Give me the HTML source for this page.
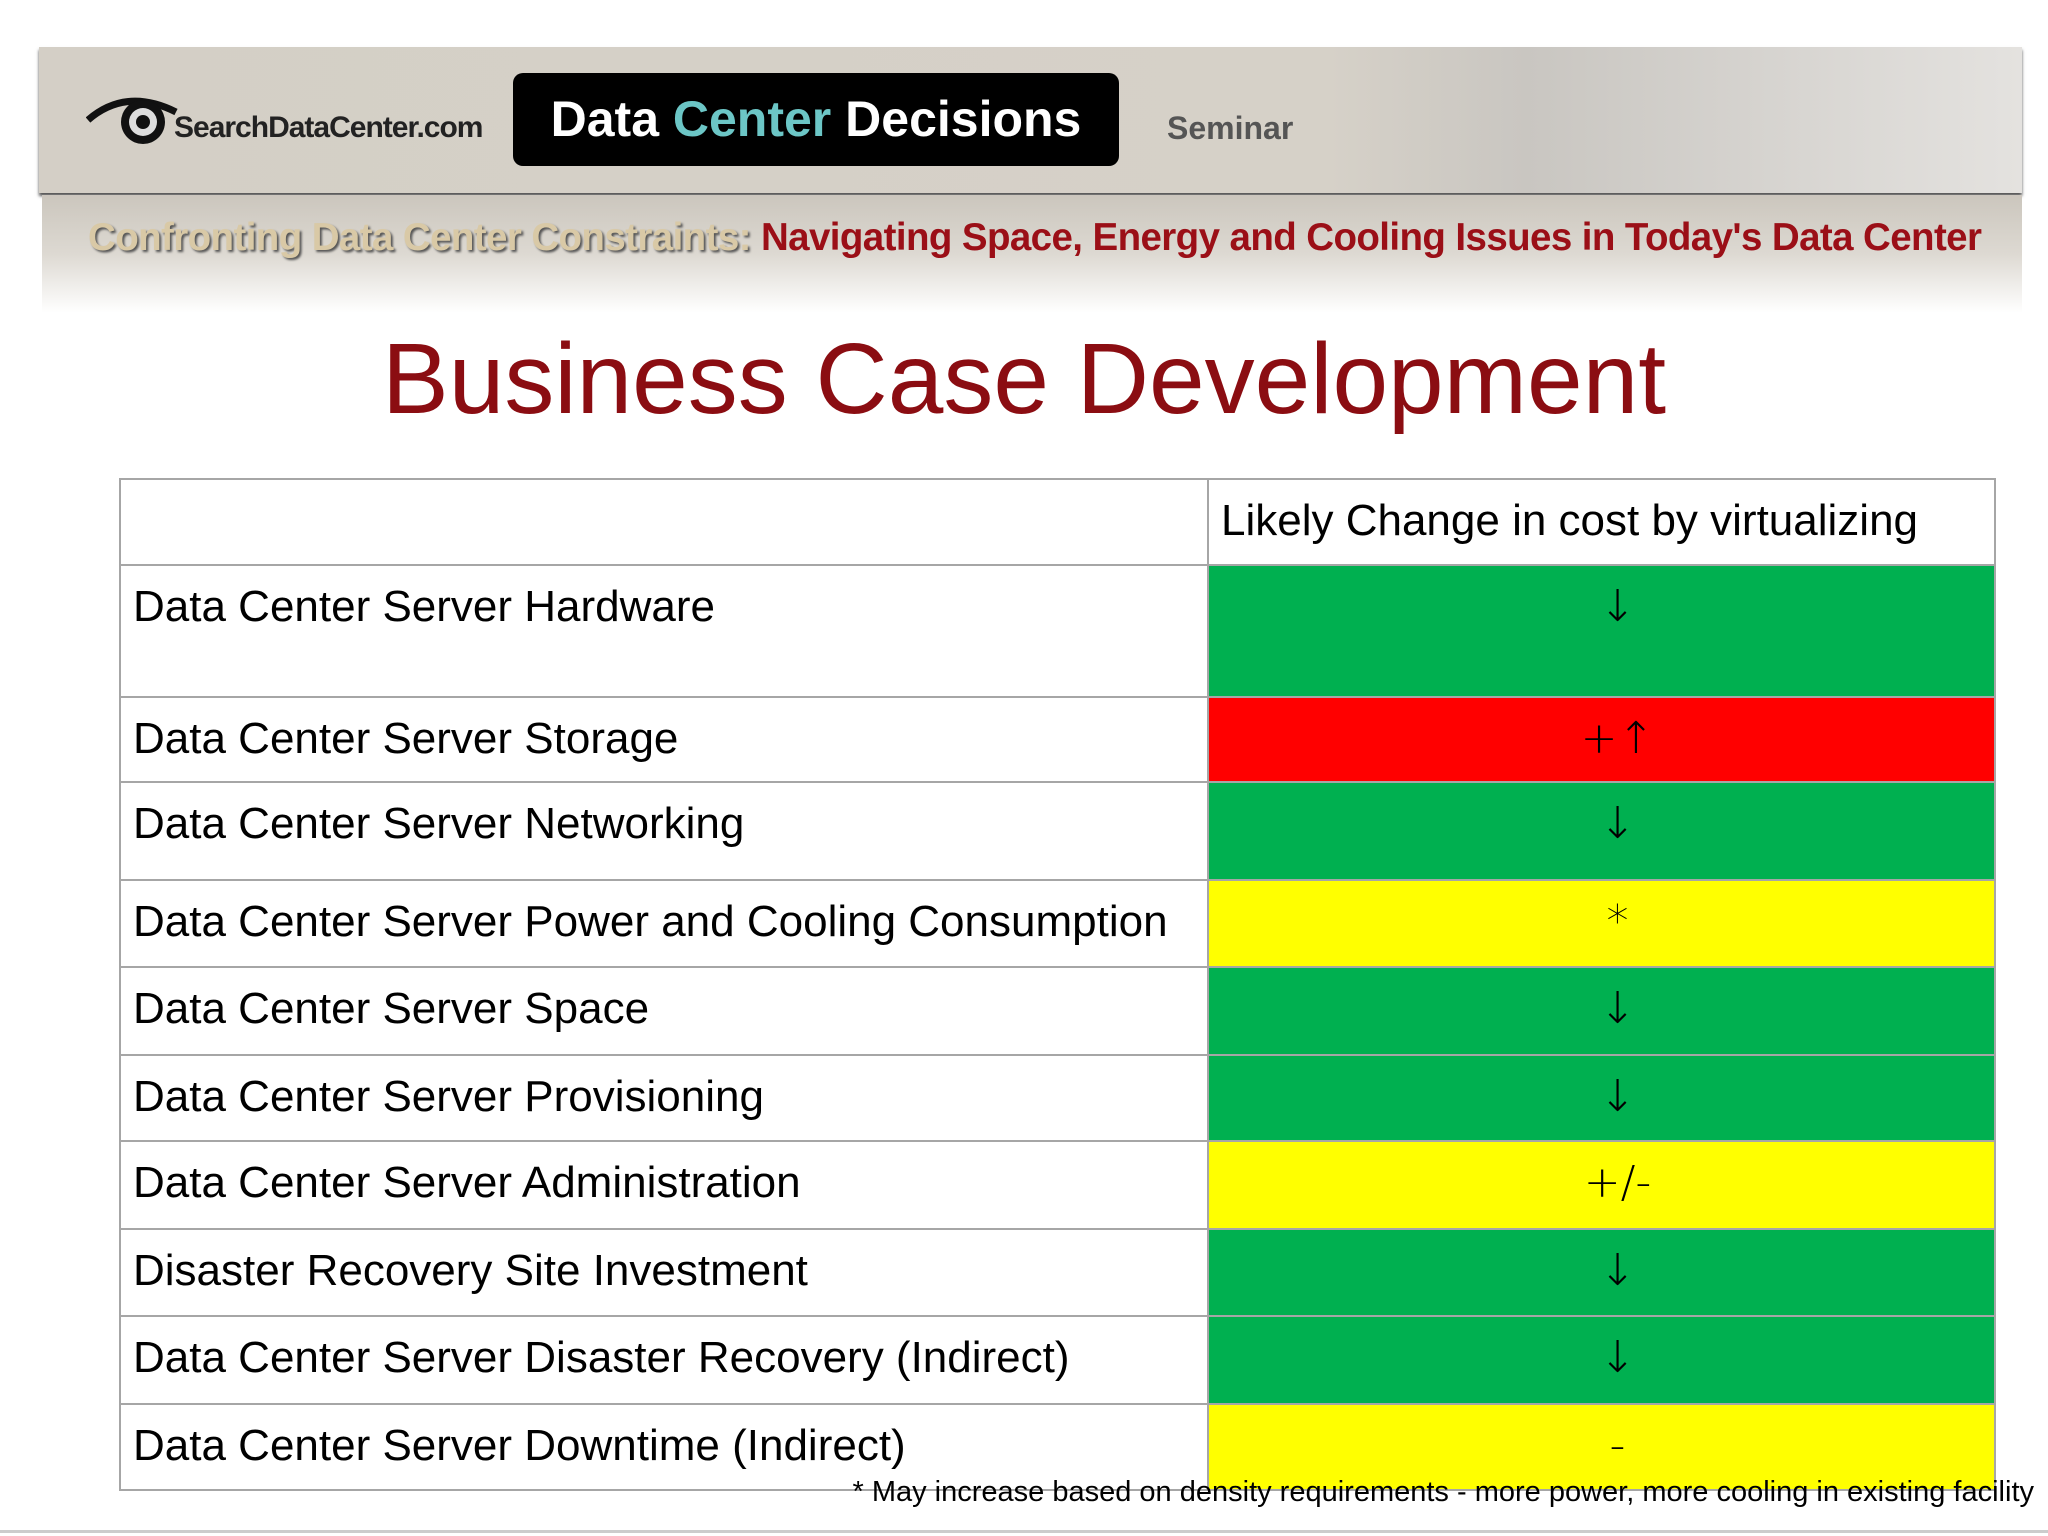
<!DOCTYPE html>
<html><head><meta charset="utf-8"><style>
body{margin:0;width:2048px;height:1536px;background:#fff;position:relative;overflow:hidden;font-family:"Liberation Sans","DejaVu Sans",sans-serif}
.abs{position:absolute}
#hdr{left:39px;top:47px;width:1983px;height:146px;background:linear-gradient(90deg,#d4cfc6 0%,#d6d1c8 65%,#c9c6c1 75%,#e4e2df 100%);box-shadow:0 3px 3px #555}
#band{left:42px;top:195px;width:1980px;height:118px;background:linear-gradient(180deg,#cbc6bd 0%,#ddd9d2 50%,#fff 100%)}
#blk{left:513px;top:73px;width:606px;height:93px;background:#000;border-radius:10px;color:#fff;font-size:50px;font-weight:bold;text-align:center;line-height:93px}
#title{left:0;width:2048px;top:322px;text-align:center;color:#8b0d12;font-size:100px}
.cell{position:absolute;box-sizing:border-box;border:2px solid #a6a6a6}
.lab{font-size:44px;padding-left:12px;color:#000}
.val{font-size:44px;text-align:center;color:#000;font-family:"DejaVu Sans",sans-serif;font-weight:300}
</style></head><body>
<div id="hdr" class="abs"></div>
<div class="abs" style="left:86px;top:92px;width:110px;height:50px">
<svg width="120" height="60"><path d="M2 28 Q40 -5 90 20" stroke="#111" stroke-width="7" fill="none"/><circle cx="57" cy="30" r="22" fill="#111"/><circle cx="57" cy="30" r="14" fill="#ddd"/><circle cx="57" cy="30" r="7" fill="#111"/></svg></div>
<div class="abs" style="left:174px;top:111px;font-size:30px;font-weight:bold;color:#222;letter-spacing:-1px">SearchDataCenter.com</div>
<div id="blk" class="abs">Data <span style="color:#6cc6c6">Center</span> Decisions</div>
<div class="abs" style="left:1167px;top:110px;font-size:32px;font-weight:bold;color:#555">Seminar</div>
<div id="band" class="abs"></div>
<div class="abs" style="left:88px;top:216px;font-size:38.5px;font-weight:bold;white-space:nowrap;letter-spacing:-0.6px"><span style="color:#d9c9a6;text-shadow:2px 2px 2px #555">Confronting Data Center Constraints:</span> <span style="color:#9b0f17">Navigating Space, Energy and Cooling Issues in Today's Data Center</span></div>
<div id="title" class="abs">Business Case Development</div>
<div id="tbl"></div>
<div class="abs" style="right:14px;top:1476px;font-size:29px;color:#000;white-space:nowrap">* May increase based on density requirements - more power, more cooling in existing facility</div>
<div class="abs" style="left:0;top:1530px;width:2048px;height:3px;background:#ccc"></div>
<script>
const categories=["Data Center Server Hardware","Data Center Server Storage","Data Center Server Networking","Data Center Server Power and Cooling Consumption","Data Center Server Space","Data Center Server Provisioning","Data Center Server Administration","Disaster Recovery Site Investment","Data Center Server Disaster Recovery (Indirect)","Data Center Server Downtime (Indirect)"];
const changes=["↓","+↑","↓","*","↓","↓","+/-","↓","↓","-"];
const colors=["#00b050","#ff0000","#00b050","#ffff00","#00b050","#00b050","#ffff00","#00b050","#00b050","#ffff00"];
const rowEdges=[478,564,696,781,879,966,1054,1140,1228,1315,1403,1489];
const L=119,M=1207,R=1996;
const t=document.getElementById('tbl');
function mk(x,y,w,h,bg,cls,txt,pad){const d=document.createElement('div');d.className='cell '+cls;d.style.left=x+'px';d.style.top=y+'px';d.style.width=w+'px';d.style.height=(h+2)+'px';d.style.background=bg;d.style.paddingTop=pad+'px';d.textContent=txt;t.appendChild(d);return d;}
const h0=mk(L,rowEdges[0],M-L+2,rowEdges[1]-rowEdges[0],'#fff','lab','',0);


const h1=mk(M,rowEdges[0],R-M,rowEdges[1]-rowEdges[0],'#fff','lab','Likely Change in cost by virtualizing',16);


categories.forEach((c,i)=>{
 const y=rowEdges[i+1],h=rowEdges[i+2]-y;
 const a=mk(L,y,M-L+2,h,'#fff','lab',c,16);
 
 
 const b=mk(M,y,R-M,h,colors[i],'val',changes[i],15);
 b.style.paddingLeft='32px';
 
 
});
</script>
</body></html>
